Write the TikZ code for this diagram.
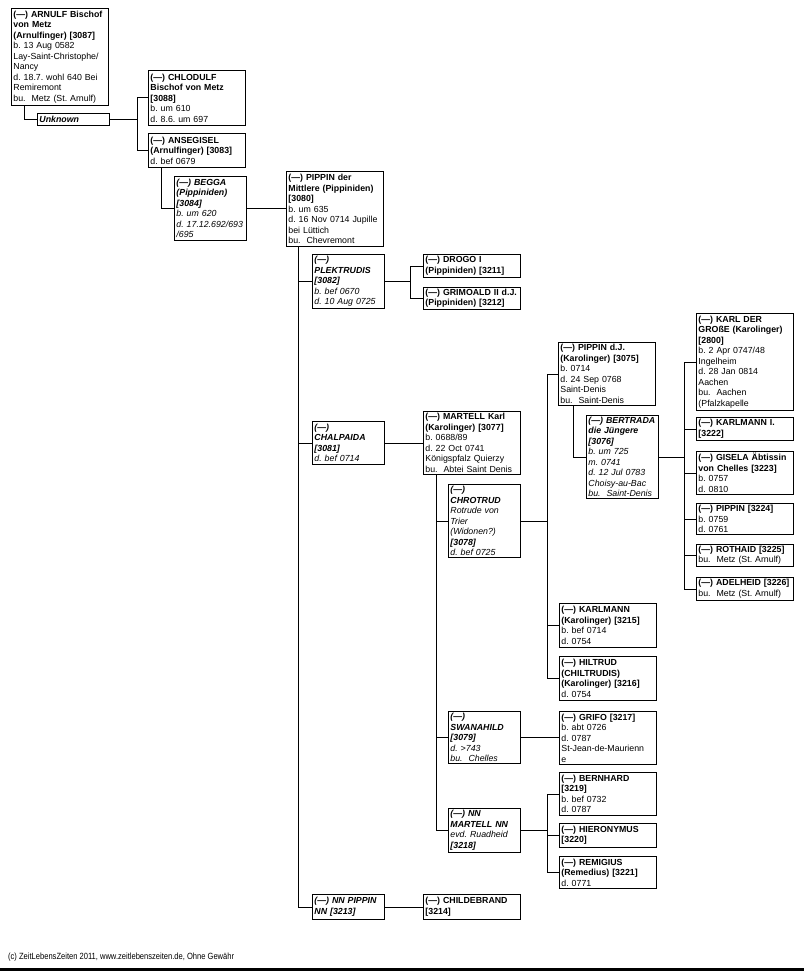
\documentclass[tikz,border=0pt]{standalone}
\usepackage{fontspec}
\setmainfont{Liberation Sans}[Ligatures=TeX]
\newfontfamily\narrowfont{Liberation Sans}[FakeStretch=0.84]
\usepackage{tikz}
\usepackage{xcolor}
\usetikzlibrary{calc}
\newcommand{\kinfont}{\fontsize{8.8}{10.5}\selectfont\frenchspacing}
\tikzset{
  kin/.style={draw=black,fill=white,line width=0.9pt,anchor=north west,
              align=left,inner xsep=2pt,inner ysep=0pt,font=\kinfont,
              text width=93pt},
  spouse/.style={kin,text width=68pt},
  link/.style={draw=black,line width=0.9pt},
  footnote/.style={anchor=west,inner sep=0pt,
                   font=\narrowfont\fontsize{9}{10}\selectfont\frenchspacing}
}

\begin{document}
\begin{tikzpicture}[x=1pt,y=-1pt]
    \path[use as bounding box] (0,0) rectangle (804,971);
    % first generations
    \node[kin,minimum height=97pt] (arnulf) at (11,8)
      {{\bfseries (---) ARNULF Bischof\\ von Metz\\ (Arnulfinger) [3087]}\\
       b. 13 Aug 0582\\ Lay-Saint-Christophe/\\ Nancy\\
       d. 18.7. wohl 640 Bei\\ Remiremont\\ bu.\ \ Metz (St. Arnulf)};
    \node[spouse,minimum height=12pt] (unknown) at (37,113)
      {\bfseries\itshape Unknown};
    \node[kin,minimum height=55pt] (chlodulf) at (148,70)
      {{\bfseries (---) CHLODULF\\ Bischof von Metz\\{}[3088]}\\
       b. um 610\\ d. 8.6. um 697};
    \node[kin,minimum height=34pt] (ansegisel) at (148,133)
      {{\bfseries (---) ANSEGISEL\\ (Arnulfinger) [3083]}\\ d. bef 0679};
    \node[spouse,minimum height=64pt] (begga) at (174,176)
      {\itshape{\bfseries (---) BEGGA\\ (Pippiniden)\\{}[3084]}\\
       b. um 620\\ d. 17.12.692/693\\ /695};
    \node[kin,minimum height=75pt] (pippin) at (286,171)
      {{\bfseries (---) PIPPIN der\\ Mittlere (Pippiniden)\\{}[3080]}\\
       b. um 635\\ d. 16 Nov 0714 Jupille\\ bei Lüttich\\ bu.\ \ Chevremont};
    % wives of Pippin and their children
    \node[spouse,minimum height=54pt] (plektrudis) at (312,254)
      {\itshape{\bfseries (---)\\ PLEKTRUDIS\\{}[3082]}\\
       b. bef 0670\\ d. 10 Aug 0725};
    \node[kin,minimum height=23pt] (drogo) at (423,254)
      {\bfseries (---) DROGO I\\ (Pippiniden) [3211]};
    \node[kin,minimum height=22pt] (grimoald) at (423,287)
      {\bfseries (---) GRIMOALD II d.J.\\ (Pippiniden) [3212]};
    \node[spouse,minimum height=43pt] (chalpaida) at (312,421)
      {\itshape{\bfseries (---)\\ CHALPAIDA\\{}[3081]}\\ d. bef 0714};
    \node[kin,minimum height=63pt] (martell) at (423,411)
      {{\bfseries (---) MARTELL Karl\\ (Karolinger) [3077]}\\
       b. 0688/89\\ d. 22 Oct 0741\\ Königspfalz Quierzy\\
       bu.\ \ Abtei Saint Denis};
    \node[spouse,minimum height=25pt] (nnpippin) at (312,894)
      {\bfseries\itshape (---) NN PIPPIN\\ NN [3213]};
    \node[kin,minimum height=25pt] (childebrand) at (423,894)
      {\bfseries (---) CHILDEBRAND\\{}[3214]};
    % wives of Karl Martell
    \node[spouse,minimum height=73pt] (chrotrud) at (448,484)
      {\itshape{\bfseries (---)\\ CHROTRUD}\\ Rotrude von\\ Trier\\
       (Widonen?)\\ {\bfseries [3078]}\\ d. bef 0725};
    \node[spouse,minimum height=52pt] (swanahild) at (448,711)
      {\itshape{\bfseries (---)\\ SWANAHILD\\{}[3079]}\\ d. >743\\
       bu.\ \ Chelles};
    \node[spouse,minimum height=44pt] (nnmartell) at (448,808)
      {\itshape{\bfseries (---) NN\\ MARTELL NN}\\ evd. Ruadheid\\
       {\bfseries [3218]}};
    % children of Karl Martell
    \node[kin,minimum height=63pt] (pippindj) at (558,342)
      {{\bfseries (---) PIPPIN d.J.\\ (Karolinger) [3075]}\\
       b. 0714\\ d. 24 Sep 0768\\ Saint-Denis\\ bu.\ \ Saint-Denis};
    \node[spouse,minimum height=83pt] (bertrada) at (586,415)
      {\itshape{\bfseries (---) BERTRADA\\ die Jüngere\\{}[3076]}\\
       b. um 725\\ m. 0741\\ d. 12 Jul 0783\\ Choisy-au-Bac\\
       bu.\ \ Saint-Denis};
    \node[kin,minimum height=44pt] (karlmann) at (559,603)
      {{\bfseries (---) KARLMANN\\ (Karolinger) [3215]}\\
       b. bef 0714\\ d. 0754};
    \node[kin,minimum height=44pt] (hiltrud) at (559,656)
      {{\bfseries (---) HILTRUD\\ (CHILTRUDIS)\\ (Karolinger) [3216]}\\
       d. 0754};
    \node[kin,minimum height=53pt] (grifo) at (559,711)
      {{\bfseries (---) GRIFO [3217]}\\ b. abt 0726\\ d. 0787\\
       St-Jean-de-Maurienn\\ e};
    \node[kin,minimum height=43pt] (bernhard) at (559,772)
      {{\bfseries (---) BERNHARD\\{}[3219]}\\ b. bef 0732\\ d. 0787};
    \node[kin,minimum height=24pt] (hieronymus) at (559,823)
      {\bfseries (---) HIERONYMUS\\{}[3220]};
    \node[kin,minimum height=32pt] (remigius) at (559,856)
      {{\bfseries (---) REMIGIUS\\ (Remedius) [3221]}\\ d. 0771};
    % children of Pippin d.J.
    \node[kin,minimum height=97pt] (karl) at (696,313)
      {{\bfseries (---) KARL DER\\ GROßE (Karolinger)\\{}[2800]}\\
       b. 2 Apr 0747/48\\ Ingelheim\\ d. 28 Jan 0814\\ Aachen\\
       bu.\ \ Aachen\\ (Pfalzkapelle};
    \node[kin,minimum height=23pt] (karlmanni) at (696,417)
      {\bfseries (---) KARLMANN I.\\{}[3222]};
    \node[kin,minimum height=43pt] (gisela) at (696,451)
      {{\bfseries (---) GISELA Äbtissin\\ von Chelles [3223]}\\
       b. 0757\\ d. 0810};
    \node[kin,minimum height=31pt] (pippinb) at (696,503)
      {{\bfseries (---) PIPPIN [3224]}\\ b. 0759\\ d. 0761};
    \node[kin,minimum height=22pt] (rothaid) at (696,544)
      {{\bfseries (---) ROTHAID [3225]}\\ bu.\ \ Metz (St. Arnulf)};
    \node[kin,minimum height=23pt] (adelheid) at (696,577)
      {{\bfseries (---) ADELHEID [3226]}\\ bu.\ \ Metz (St. Arnulf)};
    % connectors
    \draw[link] ([xshift=13pt]arnulf.south west) |- (unknown.west);
    \draw[link] (unknown.east) -- ++(28,0) coordinate (bar1);
    \draw[link] (chlodulf.west) -| (bar1) |- (ansegisel.west);
    \draw[link] ([xshift=13pt]ansegisel.south west) |- (begga.west);
    \draw[link] (begga.east) -- (begga.east -| pippin.west);
    \draw[link] ([xshift=12pt]pippin.south west) coordinate (pv)
      |- (nnpippin.west);
    \draw[link] (pv) |- (plektrudis.west);
    \draw[link] (pv) |- (chalpaida.west);
    \draw[link] (plektrudis.east) -- ++(26,0) coordinate (bar2);
    \draw[link] (drogo.west) -| (bar2) |- (grimoald.west);
    \draw[link] (chalpaida.east) -- (chalpaida.east -| martell.west);
    \draw[link] (nnpippin.east) -- (nnpippin.east -| childebrand.west);
    \draw[link] ([xshift=13pt]martell.south west) coordinate (mv)
      |- (nnmartell.west);
    \draw[link] (mv) |- (chrotrud.west);
    \draw[link] (mv) |- (swanahild.west);
    \draw[link] (chrotrud.east) -- ++(27,0) coordinate (bar3);
    \draw[link] (pippindj.west) -| (bar3) |- (hiltrud.west);
    \draw[link] (bar3 |- karlmann.west) -- (karlmann.west);
    \draw[link] (swanahild.east) -- (swanahild.east -| grifo.west);
    \draw[link] (nnmartell.east) -- ++(27,0) coordinate (bar5);
    \draw[link] (bernhard.west) -| (bar5) |- (remigius.west);
    \draw[link] (bar5 |- hieronymus.west) -- (hieronymus.west);
    \draw[link] ([xshift=15pt]pippindj.south west) |- (bertrada.west);
    \draw[link] (bertrada.east) -- ++(26,0) coordinate (bar4);
    \draw[link] (karl.west) -| (bar4) |- (adelheid.west);
    \foreach \k in {karlmanni,gisela,pippinb,rothaid}
      \draw[link] (bar4 |- \k.west) -- (\k.west);
    % footer
    \node[footnote] (credit) at (8,957)
      {(c) ZeitLebensZeiten 2011, www.zeitlebenszeiten.de, Ohne Gewähr};
    \draw[line width=2.5pt] (0,969.5) -- (804,969.5);
  \end{tikzpicture}
\end{document}
